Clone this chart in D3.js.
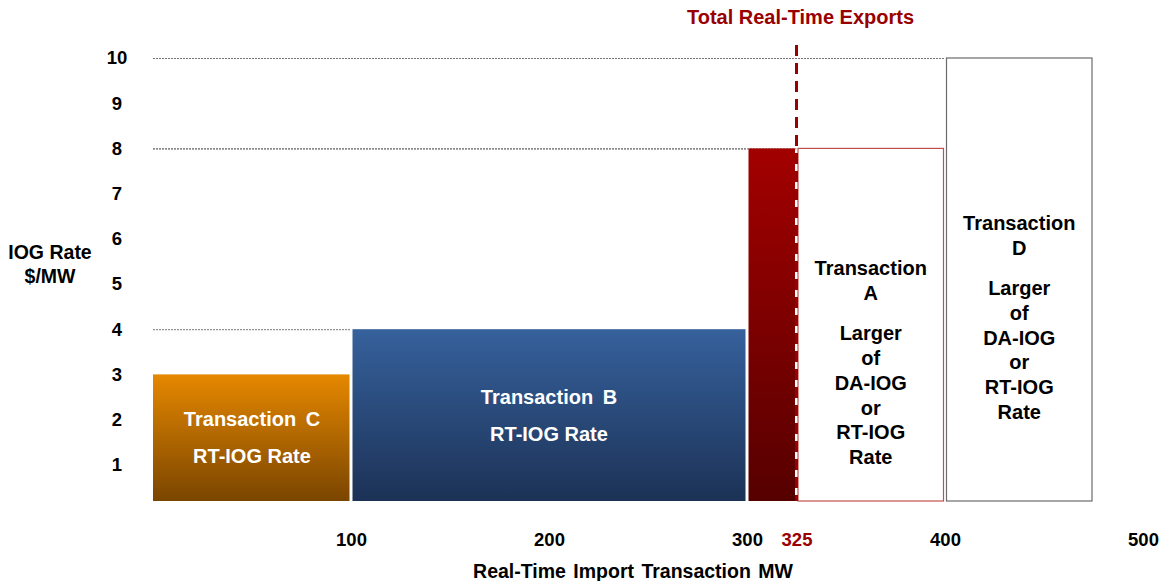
<!DOCTYPE html>
<html>
<head>
<meta charset="utf-8">
<script src="https://cdn.jsdelivr.net/npm/d3@7"></script>
<style>
  body { margin: 0; background: #fff; }
  svg text { font-family: "Liberation Sans", Arial, sans-serif; font-weight: bold; }
</style>
</head>
<body>
<div id="chart"></div>
<script>
// Values
var barNames  = ["Transaction C", "Transaction B", "Real-Time Exports", "Transaction A", "Transaction D"];
var barStart  = [0, 100, 300, 325, 400];      // MW
var barEnd    = [100, 300, 325, 400, 475];    // MW
var barRate   = [3, 4, 8, 8, 10];             // $/MW
var labelHead = [["Transaction C"], ["Transaction B"], [], ["Transaction", "A"], ["Transaction", "D"]];
var labelBody = [["RT-IOG Rate"], ["RT-IOG Rate"], [], ["Larger", "of", "DA-IOG", "or", "RT-IOG", "Rate"],
                 ["Larger", "of", "DA-IOG", "or", "RT-IOG", "Rate"]];
var xTicks = [100, 200, 300, 325, 400, 500];
var yTicks = [1, 2, 3, 4, 5, 6, 7, 8, 9, 10];
var exportsMW = 325;

var width = 1166, height = 581;
var darkRed = "#990000";

// look of each bar
var barStyle = {
  "Transaction C":     { fill: "url(#gOrange)", text: "#fff" },
  "Transaction B":     { fill: "url(#gBlue)", text: "#fff" },
  "Real-Time Exports": { fill: "url(#gRed)", text: "#fff" },
  "Transaction A":     { fill: "#fff", stroke: "#c0504d", text: "#000" },
  "Transaction D":     { fill: "#fff", stroke: "#6b6b6b", text: "#000" }
};

var bars = barNames.map(function(n, i) {
  return { name: n, x0: barStart[i], x1: barEnd[i], rate: barRate[i], head: labelHead[i], body: labelBody[i] };
});

var x = d3.scaleLinear().domain([0, 500]).range([153, 1143]);
var y = d3.scaleLinear().domain([0, 10]).range([510, 58]);
var floor = 501;   // bars stand on this line, a little above the zero mark

var svg = d3.select("#chart").append("svg")
  .attr("width", width)
  .attr("height", height);

// gradients for the filled bars
var defs = svg.append("defs");
function grad(id, top, bottom) {
  var g = defs.append("linearGradient").attr("id", id)
    .attr("x1", 0).attr("y1", 0).attr("x2", 0).attr("y2", 1);
  g.append("stop").attr("offset", "0%").attr("stop-color", top);
  g.append("stop").attr("offset", "100%").attr("stop-color", bottom);
}
grad("gOrange", "#e68800", "#7a4500");
grad("gBlue", "#36619c", "#1c3256");
grad("gRed", "#a30000", "#560000");

// dotted level lines from the axis to each bar that starts right of it
svg.append("g").selectAll("line")
  .data(bars.filter(function(d) { return d.x0 > 0; }))
  .enter().append("line")
    .attr("x1", x(0))
    .attr("x2", function(d) { return x(d.x0); })
    .attr("y1", function(d) { return y(d.rate) + 0.5; })
    .attr("y2", function(d) { return y(d.rate) + 0.5; })
    .attr("stroke", "#777")
    .attr("stroke-width", 1)
    .attr("stroke-dasharray", "2,1");

// bars
var gap = 1.5;
var node = svg.append("g").selectAll("g")
  .data(bars)
  .enter().append("g");

node.append("rect")
  .attr("x", function(d) { return x(d.x0) + (d.x0 > 0 ? gap : 0); })
  .attr("y", function(d) { return y(d.rate); })
  .attr("width", function(d) { return x(d.x1) - x(d.x0) - (d.x0 > 0 ? 2 * gap : gap); })
  .attr("height", function(d) { return floor - y(d.rate); })
  .attr("fill", function(d) { return barStyle[d.name].fill; })
  .attr("stroke", function(d) { return barStyle[d.name].stroke || "none"; })
  .attr("stroke-width", 1.2);

// labels inside the bars
node.each(function(d) {
  var g = d3.select(this);
  var cx = (x(d.x0) + x(d.x1)) / 2;
  var mid = (y(d.rate) + floor) / 2;
  var lines = [];
  if (d.body.length <= 1) {
    d.head.forEach(function(t) { lines.push({ t: t, y: mid - 18.5, wide: true }); });
    d.body.forEach(function(t) { lines.push({ t: t, y: mid + 18.5 }); });
  } else {
    var span = (d.head.length - 1) * 25 + 40 + (d.body.length - 1) * 24.7;
    var top = mid + 38 - span / 2;
    d.head.forEach(function(t, i) { lines.push({ t: t, y: top + i * 25 }); });
    var bTop = top + (d.head.length - 1) * 25 + 40;
    d.body.forEach(function(t, i) { lines.push({ t: t, y: bTop + i * 24.7 }); });
  }
  g.selectAll("text").data(lines).enter().append("text")
    .attr("x", cx)
    .attr("y", function(l) { return l.y; })
    .attr("dy", "0.35em")
    .attr("text-anchor", "middle")
    .attr("fill", barStyle[d.name].text)
    .style("font-size", "20px")
    .style("word-spacing", function(l) { return l.wide ? "4px" : null; })
    .text(function(l) { return l.t; });
});

// total exports marker
svg.append("line")
  .attr("x1", x(exportsMW)).attr("x2", x(exportsMW))
  .attr("y1", 45).attr("y2", floor)
  .attr("stroke", darkRed)
  .attr("stroke-width", 3)
  .attr("stroke-dasharray", "11,7");

svg.append("text")
  .attr("x", x(exportsMW) + 4)
  .attr("y", 24)
  .attr("text-anchor", "middle")
  .attr("fill", darkRed)
  .style("font-size", "20px")
  .text("Total Real-Time Exports");

// y axis (labels only)
var yAxis = svg.append("g")
  .attr("transform", "translate(126,0)")
  .call(d3.axisLeft(y).tickValues(yTicks).tickSize(0).tickPadding(0).tickFormat(d3.format("d")));
yAxis.select(".domain").remove();
yAxis.selectAll("text")
  .attr("x", -9)
  .attr("text-anchor", "middle")
  .attr("fill", "#000")
  .style("font-size", "18.5px");

// x axis (labels only)
var xAxis = svg.append("g")
  .attr("transform", "translate(0,540)")
  .call(d3.axisBottom(x).tickValues(xTicks).tickSize(0).tickPadding(0).tickFormat(d3.format("d")));
xAxis.select(".domain").remove();
xAxis.selectAll("text")
  .attr("y", 0)
  .attr("dy", "0.35em")
  .attr("fill", function(d) { return d === exportsMW ? darkRed : "#000"; })
  .style("font-size", "18.5px");

// axis titles
svg.append("text")
  .attr("x", 633).attr("y", 578)
  .attr("text-anchor", "middle")
  .style("font-size", "19.5px")
  .style("word-spacing", "2px")
  .text("Real-Time Import Transaction MW");

var yTitle = svg.append("text")
  .attr("text-anchor", "middle")
  .style("font-size", "19.5px");
yTitle.append("tspan").attr("x", 50).attr("y", 259).text("IOG Rate");
yTitle.append("tspan").attr("x", 50).attr("y", 283).text("$/MW");
</script>
</body>
</html>
